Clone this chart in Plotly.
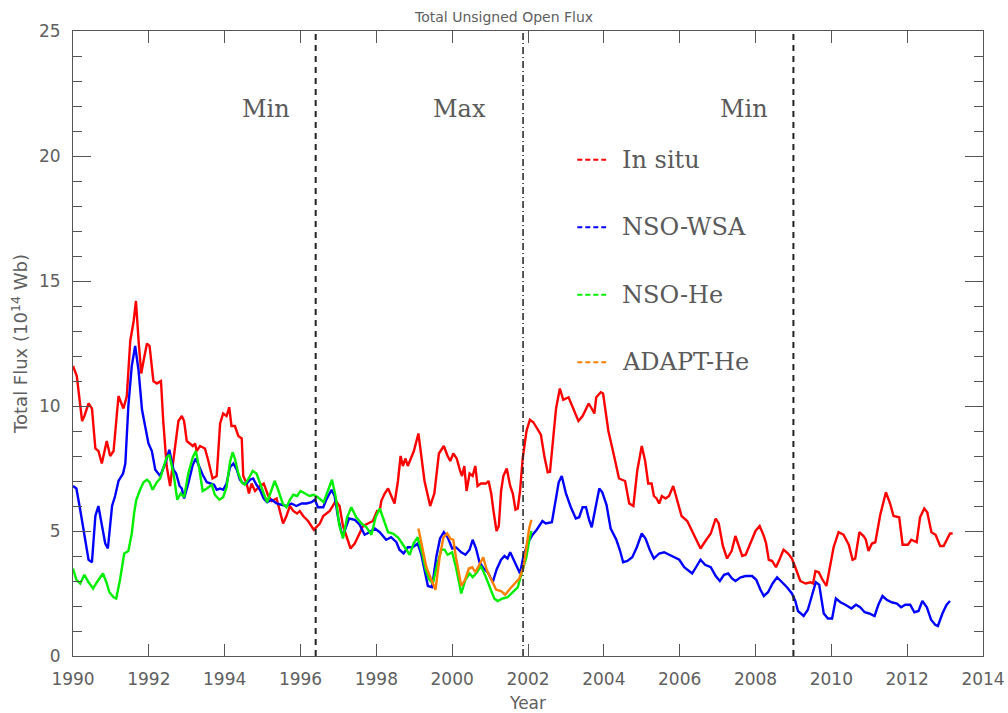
import plotly.graph_objects as go

# ---------------- data ----------------
insitu_year = [1990.0, 1990.1, 1990.24, 1990.3, 1990.41, 1990.5, 1990.59, 1990.67, 1990.76, 1990.89, 1990.98,
               1991.07, 1991.2, 1991.33, 1991.42, 1991.51, 1991.6, 1991.66, 1991.73, 1991.8, 1991.86, 1991.95,
               1992.02, 1992.12, 1992.21, 1992.32, 1992.38, 1992.47, 1992.56, 1992.65, 1992.78, 1992.87, 1992.93,
               1993.0, 1993.09, 1993.16, 1993.22, 1993.26, 1993.35, 1993.48, 1993.57, 1993.68, 1993.79, 1993.88,
               1993.96, 1994.05, 1994.12, 1994.18, 1994.27, 1994.36, 1994.45, 1994.49, 1994.58, 1994.64, 1994.71,
               1994.8, 1994.93, 1995.03, 1995.15, 1995.24, 1995.37, 1995.46, 1995.54, 1995.63, 1995.72, 1995.81,
               1995.91, 1995.98, 1996.07, 1996.2, 1996.35, 1996.51, 1996.6, 1996.77, 1996.93, 1997.03, 1997.12,
               1997.21, 1997.32, 1997.43, 1997.56, 1997.65, 1997.78, 1997.91, 1998.02, 1998.09, 1998.13, 1998.22,
               1998.31, 1998.39, 1998.48, 1998.57, 1998.64, 1998.7, 1998.77, 1998.83, 1998.9, 1998.99, 1999.11,
               1999.18, 1999.27, 1999.42, 1999.53, 1999.65, 1999.78, 1999.88, 1999.95, 2000.03, 2000.12, 2000.21,
               2000.26, 2000.32, 2000.38, 2000.46, 2000.54, 2000.61, 2000.67, 2000.76, 2000.89, 2000.96, 2001.03,
               2001.09, 2001.17, 2001.23, 2001.29, 2001.35, 2001.44, 2001.53, 2001.6, 2001.67, 2001.73, 2001.79,
               2001.86, 2001.96, 2002.05, 2002.14, 2002.25, 2002.34, 2002.43, 2002.52, 2002.58, 2002.65, 2002.74,
               2002.84, 2002.93, 2003.07, 2003.17, 2003.33, 2003.44, 2003.6, 2003.68, 2003.75, 2003.8, 2003.92,
               2003.98, 2004.12, 2004.27, 2004.4, 2004.56, 2004.67, 2004.78, 2004.88, 2005.0, 2005.09, 2005.17,
               2005.26, 2005.32, 2005.39, 2005.46, 2005.53, 2005.63, 2005.72, 2005.83, 2005.94, 2006.05, 2006.2,
               2006.38, 2006.55, 2006.68, 2006.82, 2006.95, 2007.03, 2007.14, 2007.25, 2007.37, 2007.47, 2007.56,
               2007.65, 2007.74, 2007.87, 2008.0, 2008.11, 2008.22, 2008.28, 2008.35, 2008.44, 2008.54, 2008.63,
               2008.74, 2008.86, 2008.96, 2009.05, 2009.18, 2009.32, 2009.45, 2009.52, 2009.58, 2009.67, 2009.75,
               2009.87, 2009.97, 2010.06, 2010.19, 2010.32, 2010.46, 2010.56, 2010.63, 2010.74, 2010.85, 2010.91,
               2010.98, 2011.07, 2011.16, 2011.29, 2011.44, 2011.55, 2011.64, 2011.79, 2011.88, 2012.02, 2012.11,
               2012.25, 2012.34, 2012.45, 2012.53, 2012.64, 2012.75, 2012.87, 2012.96, 2013.04, 2013.13, 2013.2]
insitu_flux = [11.6, 11.2, 9.4, 9.6, 10.1, 9.9, 8.3, 8.2, 7.7, 8.6, 8.0,
               8.2, 10.4, 9.9, 10.4, 12.6, 13.4, 14.2, 12.6, 11.3, 11.8, 12.5,
               12.4, 11.0, 10.9, 11.0, 9.4, 7.6, 6.8, 7.8, 9.4, 9.6, 9.4,
               8.6, 8.5, 8.4, 8.5, 8.2, 8.4, 8.3, 7.8, 7.1, 7.2, 9.3,
               9.7, 9.6, 9.95, 9.2, 9.2, 8.8, 8.7, 7.2, 6.9, 6.5, 6.9,
               6.6, 6.8, 6.9, 6.4, 6.2, 6.3, 5.7, 5.3, 5.6, 6.0, 5.8,
               5.7, 5.8, 5.6, 5.4, 5.05, 5.3, 5.6, 5.8, 6.2, 6.0, 5.2,
               4.8, 4.3, 4.5, 4.9, 5.2, 5.3, 5.4, 5.8, 5.8, 6.2, 6.5,
               6.7, 6.4, 6.1, 7.0, 8.0, 7.6, 7.9, 7.6, 7.9, 8.2, 8.9,
               8.1, 7.0, 6.0, 6.5, 8.1, 8.4, 8.0, 7.8, 8.1, 7.9, 7.4,
               7.2, 7.6, 6.6, 7.3, 7.2, 7.6, 6.8, 6.9, 6.9, 7.0, 6.5,
               5.8, 5.0, 5.2, 6.6, 7.2, 7.5, 6.8, 6.5, 5.85, 5.9, 6.6,
               7.9, 9.0, 9.45, 9.35, 9.1, 8.85, 8.0, 7.35, 7.37, 8.4, 9.9,
               10.7, 10.25, 10.35, 10.0, 9.4, 9.6, 10.1, 9.9, 9.7, 10.35, 10.55,
               10.5, 9.0, 8.0, 7.1, 7.0, 6.1, 6.0, 7.4, 8.4, 7.8, 6.9,
               6.9, 6.4, 6.3, 6.1, 6.4, 6.3, 6.4, 6.8, 6.2, 5.6, 5.4,
               4.8, 4.3, 4.6, 4.9, 5.5, 5.3, 4.4, 3.9, 4.2, 4.8, 4.4,
               4.0, 4.05, 4.5, 5.0, 5.2, 4.8, 4.5, 3.85, 3.8, 3.55, 3.85,
               4.25, 4.1, 3.9, 3.55, 3.0, 2.9, 2.95, 2.9, 3.4, 3.35, 3.1,
               2.8, 3.55, 4.35, 4.95, 4.85, 4.45, 3.85, 3.9, 4.95, 4.8, 4.65,
               4.2, 4.5, 4.55, 5.65, 6.55, 6.1, 5.6, 5.55, 4.45, 4.45, 4.65,
               4.55, 5.55, 5.9, 5.75, 4.95, 4.85, 4.4, 4.4, 4.65, 4.9, 4.9]

wsa_year = [1990.0, 1990.09, 1990.19, 1990.3, 1990.41, 1990.5, 1990.59, 1990.67, 1990.76, 1990.85, 1990.92,
            1991.03, 1991.11, 1991.2, 1991.32, 1991.38, 1991.46, 1991.55, 1991.64, 1991.73, 1991.82, 1991.9,
            1991.99, 1992.08, 1992.17, 1992.3, 1992.43, 1992.54, 1992.65, 1992.72, 1992.81, 1992.87, 1992.93,
            1993.04, 1993.16, 1993.24, 1993.33, 1993.42, 1993.53, 1993.66, 1993.72, 1993.79, 1993.88, 1993.96,
            1994.05, 1994.14, 1994.23, 1994.32, 1994.4, 1994.49, 1994.58, 1994.67, 1994.75, 1994.84, 1994.93,
            1995.03, 1995.12, 1995.24, 1995.37, 1995.5, 1995.63, 1995.76, 1995.89, 1996.03, 1996.16, 1996.29,
            1996.38, 1996.46, 1996.6, 1996.68, 1996.82, 1996.9, 1996.99, 1997.08, 1997.14, 1997.28, 1997.43,
            1997.56, 1997.69, 1997.82, 1997.96, 1998.09, 1998.26, 1998.39, 1998.53, 1998.61, 1998.72, 1998.83,
            1998.96, 1999.09, 1999.18, 1999.27, 1999.36, 1999.47, 1999.58, 1999.68, 1999.78, 1999.88, 2000.0,
            2000.1, 2000.24, 2000.35, 2000.46, 2000.54, 2000.63, 2000.72, 2000.83, 2000.94, 2001.07, 2001.17,
            2001.29, 2001.38, 2001.46, 2001.53, 2001.62, 2001.73, 2001.79, 2001.88, 2001.99, 2002.12, 2002.23,
            2002.38, 2002.47, 2002.63, 2002.74, 2002.81, 2002.89, 2003.0, 2003.13, 2003.26, 2003.35, 2003.44,
            2003.53, 2003.61, 2003.68, 2003.77, 2003.88, 2003.96, 2004.07, 2004.18, 2004.33, 2004.42, 2004.51,
            2004.62, 2004.75, 2004.87, 2005.0, 2005.1, 2005.21, 2005.32, 2005.46, 2005.59, 2005.72, 2005.86,
            2005.99, 2006.12, 2006.25, 2006.33, 2006.45, 2006.55, 2006.67, 2006.82, 2006.95, 2007.06, 2007.17,
            2007.28, 2007.38, 2007.47, 2007.61, 2007.74, 2007.91, 2008.02, 2008.13, 2008.22, 2008.33, 2008.45,
            2008.57, 2008.7, 2008.83, 2008.96, 2009.05, 2009.12, 2009.27, 2009.38, 2009.49, 2009.59, 2009.68,
            2009.8, 2009.91, 2010.02, 2010.12, 2010.24, 2010.37, 2010.53, 2010.65, 2010.76, 2010.88, 2011.0,
            2011.14, 2011.24, 2011.35, 2011.46, 2011.59, 2011.73, 2011.84, 2011.95, 2012.08, 2012.19, 2012.3,
            2012.4, 2012.52, 2012.63, 2012.74, 2012.81, 2012.93, 2013.04, 2013.13]
wsa_flux = [6.8, 6.7, 5.85, 4.9, 3.85, 3.75, 5.6, 6.0, 5.3, 4.5, 4.3,
            6.0, 6.4, 7.0, 7.3, 7.7, 10.0, 11.6, 12.4, 11.4, 9.85, 9.2,
            8.5, 8.2, 7.45, 7.2, 7.7, 8.25, 7.45, 7.3, 6.8, 6.7, 6.3,
            6.9, 7.65, 7.9, 7.55, 7.25, 6.95, 6.9, 6.85, 6.65, 6.7, 6.65,
            6.9, 7.55, 7.7, 7.45, 7.05, 6.9, 6.9, 7.05, 7.1, 6.85, 6.65,
            6.3, 6.15, 6.25, 6.1, 6.05, 6.0, 6.1, 6.0, 6.1, 6.1, 6.15,
            6.25, 5.95, 5.95, 6.25, 6.65, 6.4, 5.55, 4.95, 4.9, 5.5, 5.45,
            5.25, 4.85, 4.95, 5.1, 4.95, 4.65, 4.75, 4.55, 4.25, 4.1, 4.35,
            4.35, 4.5, 4.1, 3.45, 2.8, 2.75, 3.95, 4.7, 4.95, 4.75, 4.3,
            4.35, 4.15, 4.05, 4.25, 4.65, 4.3, 3.75, 3.5, 3.35, 2.95, 3.45,
            3.85, 4.0, 3.9, 4.15, 3.85, 3.45, 3.3, 4.0, 4.5, 4.85, 5.05,
            5.4, 5.3, 5.35, 6.25, 6.95, 7.2, 6.5, 5.95, 5.5, 5.55, 5.95,
            5.95, 5.45, 5.15, 5.85, 6.7, 6.55, 6.05, 5.1, 4.65, 4.25, 3.75,
            3.8, 3.95, 4.35, 4.9, 4.7, 4.25, 3.9, 4.1, 4.15, 4.05, 3.95,
            3.85, 3.55, 3.4, 3.3, 3.6, 3.85, 3.65, 3.55, 3.2, 3.0, 3.25,
            3.3, 3.1, 3.0, 3.15, 3.2, 3.2, 3.05, 2.65, 2.4, 2.55, 2.9,
            3.15, 2.95, 2.75, 2.5, 2.2, 1.8, 1.6, 1.85, 2.45, 2.95, 2.85,
            1.7, 1.5, 1.5, 2.3, 2.15, 2.05, 1.9, 2.05, 1.95, 1.75, 1.7,
            1.6, 2.05, 2.4, 2.25, 2.15, 2.1, 1.95, 2.05, 2.05, 1.75, 1.8,
            2.2, 1.95, 1.45, 1.25, 1.2, 1.7, 2.05, 2.2]

nsohe_year = [1990.0, 1990.09, 1990.19, 1990.3, 1990.41, 1990.53, 1990.63, 1990.79, 1990.88, 1990.96, 1991.07,
              1991.14, 1991.24, 1991.35, 1991.46, 1991.55, 1991.61, 1991.67, 1991.77, 1991.86, 1991.95, 1992.02,
              1992.1, 1992.21, 1992.3, 1992.38, 1992.47, 1992.54, 1992.65, 1992.75, 1992.84, 1992.93, 1993.04,
              1993.16, 1993.24, 1993.33, 1993.42, 1993.53, 1993.66, 1993.74, 1993.86, 1993.96, 1994.05, 1994.14,
              1994.21, 1994.27, 1994.36, 1994.45, 1994.53, 1994.65, 1994.74, 1994.84, 1994.93, 1995.03, 1995.12,
              1995.21, 1995.32, 1995.41, 1995.53, 1995.63, 1995.72, 1995.81, 1995.91, 1996.0, 1996.11, 1996.24,
              1996.35, 1996.46, 1996.61, 1996.73, 1996.83, 1996.93, 1997.02, 1997.12, 1997.23, 1997.34, 1997.47,
              1997.61, 1997.74, 1997.87, 1997.98, 1998.09, 1998.19, 1998.31, 1998.44, 1998.57, 1998.66, 1998.77,
              1998.88, 1998.98, 1999.09, 1999.21, 1999.3, 1999.4, 1999.49, 1999.59, 1999.71, 1999.8, 1999.88,
              2000.0, 2000.1, 2000.24, 2000.35, 2000.46, 2000.54, 2000.63, 2000.76, 2000.89, 2001.0, 2001.11,
              2001.2, 2001.33, 2001.46, 2001.6, 2001.73, 2001.84, 2001.95, 2002.03, 2002.09]
nsohe_flux = [3.5, 3.05, 2.9, 3.25, 2.95, 2.7, 2.95, 3.3, 2.95, 2.55, 2.35,
              2.3, 3.05, 4.1, 4.2, 4.9, 5.7, 6.25, 6.65, 6.95, 7.05, 6.95,
              6.65, 6.95, 7.1, 7.55, 7.95, 8.05, 7.3, 6.25, 6.5, 6.35, 7.3,
              7.95, 8.2, 7.5, 6.6, 6.7, 6.85, 6.45, 6.25, 6.35, 6.75, 7.75,
              8.15, 7.9, 7.3, 6.95, 6.85, 7.15, 7.4, 7.3, 6.9, 6.5, 6.15,
              6.5, 7.0, 6.65, 6.1, 5.95, 6.25, 6.45, 6.4, 6.6, 6.5, 6.4,
              6.45, 6.35, 6.15, 6.65, 7.05, 6.35, 5.25, 4.7, 5.55, 5.95, 5.55,
              5.3, 5.15, 4.85, 5.55, 5.9, 5.45, 4.95, 4.9, 4.75, 4.55, 4.3,
              4.05, 4.5, 4.75, 4.1, 3.45, 3.05, 2.9, 3.55, 4.25, 4.25, 4.05,
              4.15, 3.55, 2.5, 3.05, 3.3, 3.15, 3.3, 3.6, 3.15, 2.75, 2.3,
              2.2, 2.3, 2.35, 2.55, 2.75, 3.35, 3.9, 4.6, 5.0]

adapt_year = [1999.11, 1999.21, 1999.32, 1999.45, 1999.56, 1999.67, 1999.77, 1999.87, 1999.95, 2000.03, 2000.1,
              2000.24, 2000.34, 2000.44, 2000.53, 2000.61, 2000.72, 2000.82, 2000.91, 2001.03, 2001.16, 2001.29,
              2001.4, 2001.53, 2001.64, 2001.77, 2001.88, 2001.96, 2002.03, 2002.09]
adapt_flux = [5.1, 4.35, 3.55, 3.05, 2.65, 3.95, 4.75, 4.9, 4.7, 4.65, 3.95,
              2.8, 3.05, 3.5, 3.55, 3.35, 3.7, 3.95, 3.45, 3.05, 2.65, 2.6,
              2.45, 2.7, 2.9, 3.1, 3.55, 4.35, 5.1, 5.45]

series_names = ["In situ", "NSO-WSA", "NSO-He", "ADAPT-He"]
series_colors = ["#ff0000", "#0000ff", "#00ee00", "#ff8000"]

# cycle markers: solar minimum / maximum epochs
min_years = [1996.4, 2009.0]
max_year = [2001.87]
phase_labels = ["Min", "Max", "Min"]
phase_label_x = [1995.1, 2000.2, 2007.7]

x_ticks = list(range(1990, 2015, 2))
y_ticks = [0, 5, 10, 15, 20, 25]

# ---------------- figure ----------------
fig = go.Figure()
for yr, fx, name, col in zip([insitu_year, wsa_year, nsohe_year, adapt_year],
                             [insitu_flux, wsa_flux, nsohe_flux, adapt_flux],
                             series_names, series_colors):
    fig.add_trace(go.Scatter(x=yr, y=fx, mode="lines", name=name,
                             line=dict(color=col, width=2.4), showlegend=False))

# epoch lines
for xv in min_years:
    fig.add_shape(type="line", xref="x", yref="paper", x0=xv, x1=xv, y0=0, y1=1,
                  line=dict(color="#222222", width=2, dash="6px,5px"))
for xv in max_year:
    fig.add_shape(type="line", xref="x", yref="paper", x0=xv, x1=xv, y0=0, y1=1,
                  line=dict(color="#222222", width=1.5, dash="7px,3px,1px,3px"))

serif = "DejaVu Serif, Liberation Serif, serif"
text_grey = "#5a5a5a"
for lbl, xv in zip(phase_labels, phase_label_x):
    fig.add_annotation(x=xv, y=21.9, text=lbl, showarrow=False, xref="x", yref="y",
                       font=dict(family=serif, size=24, color=text_grey))

# manual legend
leg_y = [19.85, 17.15, 14.45, 11.75]
for name, col, ly in zip(series_names, series_colors, leg_y):
    fig.add_shape(type="line", xref="x", yref="y", x0=2003.3, x1=2004.06, y0=ly, y1=ly,
                  line=dict(color=col, width=2, dash="5px,3px"))
    fig.add_annotation(x=2004.42, y=ly, text=name, showarrow=False, xref="x", yref="y",
                       xanchor="left", font=dict(family=serif, size=24, color=text_grey))

sans = "DejaVu Sans, Liberation Sans, sans-serif"
axis_grey = "#606060"
fig.add_annotation(x=(503 - 73) / 910, y=1 + (31 - 17) / 625, xref="paper", yref="paper",
                   yanchor="middle", text="Total Unsigned Open Flux",
                   showarrow=False, font=dict(family=sans, size=14, color=axis_grey))

axis_common = dict(showline=True, linecolor="#555555", linewidth=1, mirror="ticks",
                   ticks="inside", tickcolor="#555555", showgrid=False, zeroline=False,
                   automargin=False, tickfont=dict(family=sans, size=17, color=axis_grey))
fig.update_xaxes(range=[1990, 2014], tickvals=x_ticks, ticklen=12,
                 title=dict(text="Year", font=dict(family=sans, size=17, color=axis_grey), standoff=9),
                 ticklabelstandoff=8, **axis_common)
fig.update_yaxes(range=[0, 25], tickvals=y_ticks, ticklen=18,
                 minor=dict(dtick=1, ticks="inside", ticklen=9, tickcolor="#555555", showgrid=False),
                 title=dict(text="Total Flux (10<sup>14</sup> Wb)",
                            font=dict(family=sans, size=18, color=axis_grey), standoff=6),
                 ticklabelstandoff=8, **axis_common)

fig.update_layout(width=1008, height=713, margin=dict(l=73, r=25, t=31, b=57, autoexpand=False),
                  plot_bgcolor="white", paper_bgcolor="white", showlegend=False)
fig.write_html("out.html")
